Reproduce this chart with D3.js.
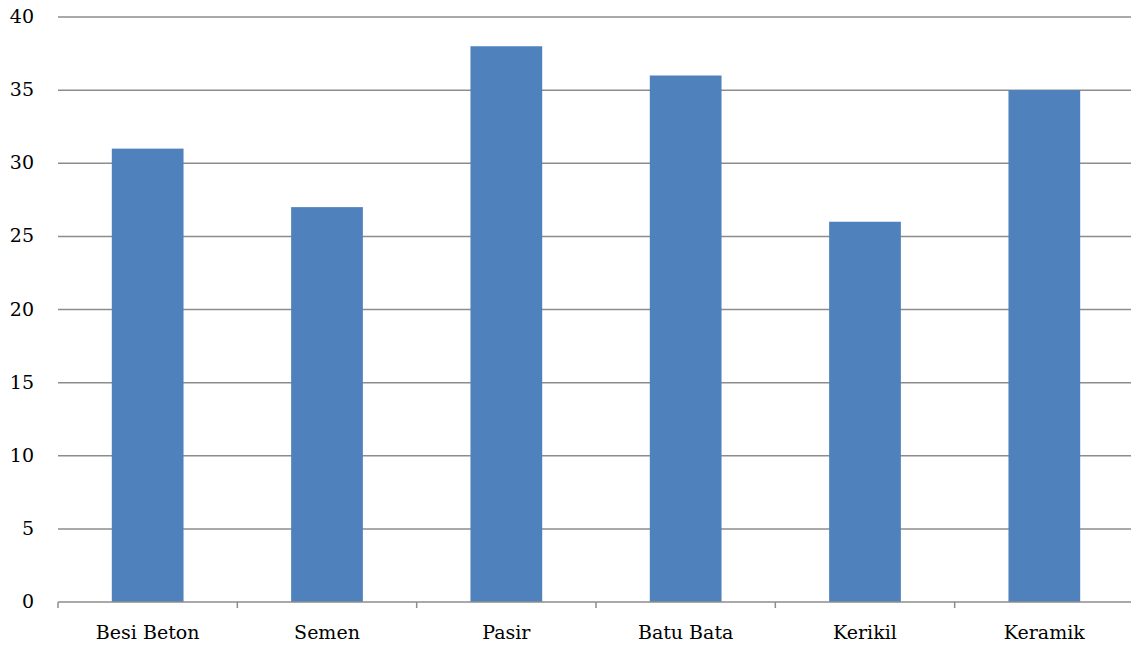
<!DOCTYPE html>
<html>
<head>
<meta charset="utf-8">
<script src="https://cdn.jsdelivr.net/npm/d3@7"></script>
<style>
  body { margin: 0; background: #fff; }
</style>
</head>
<body>
<div id="chart"></div>
<script>
const categories = ['Besi Beton', 'Semen', 'Pasir', 'Batu Bata', 'Kerikil', 'Keramik'];
const values = [31, 27, 38, 36, 26, 35];
const yTicks = [0, 5, 10, 15, 20, 25, 30, 35, 40];

const W = 1131, H = 646;
const margin = {top: 17, right: -3, bottom: 44, left: 58};
const width = W - margin.left - margin.right;
const height = H - margin.top - margin.bottom;
const font = "'DejaVu Serif', serif";

const svg = d3.select('#chart')
    .append('svg')
        .attr('width', W)
        .attr('height', H)
        .style('font-family', font)
    .append('g')
        .attr('transform', `translate(${margin.left},${margin.top})`);

// scales
const x = d3.scaleBand()
    .domain(categories)
    .range([0, width])
    .paddingInner(0.6)
    .paddingOuter(0.3);
const y = d3.scaleLinear().domain([0, 40]).range([height, 0]);

// gridlines
svg.append('g')
    .selectAll('line')
    .data(yTicks.filter(d => d > 0))
    .join('line')
        .attr('x1', 0)
        .attr('x2', width)
        .attr('y1', d => y(d))
        .attr('y2', d => y(d))
        .attr('stroke', '#8c8c8c')
        .attr('stroke-width', 1.5);

// y labels
svg.append('g')
    .selectAll('text')
    .data(yTicks)
    .join('text')
        .attr('x', -24)
        .attr('y', d => y(d))
        .attr('dy', '0.32em')
        .attr('text-anchor', 'end')
        .style('font-size', '19px')
        .text(d => d);

// bars
svg.append('g')
    .selectAll('rect')
    .data(values)
    .join('rect')
        .attr('x', (d, i) => x(categories[i]))
        .attr('y', d => y(d))
        .attr('width', x.bandwidth())
        .attr('height', d => y(0) - y(d))
        .attr('fill', '#4f81bd');

// x axis
const step = width / categories.length;
const axis = svg.append('g').attr('transform', `translate(0,${height})`);
axis.append('line')
    .attr('x1', 0).attr('x2', width)
    .attr('stroke', '#8c8c8c').attr('stroke-width', 1.5);
axis.selectAll('.tick')
    .data(d3.range(categories.length + 1))
    .join('line')
        .attr('x1', i => i * step).attr('x2', i => i * step)
        .attr('y1', 0).attr('y2', 6)
        .attr('stroke', '#8c8c8c').attr('stroke-width', 1.5);
axis.selectAll('text')
    .data(categories)
    .join('text')
        .attr('x', d => x(d) + x.bandwidth() / 2)
        .attr('y', 37)
        .attr('text-anchor', 'middle')
        .style('font-size', '19px')
        .text(d => d);
</script>
</body>
</html>
